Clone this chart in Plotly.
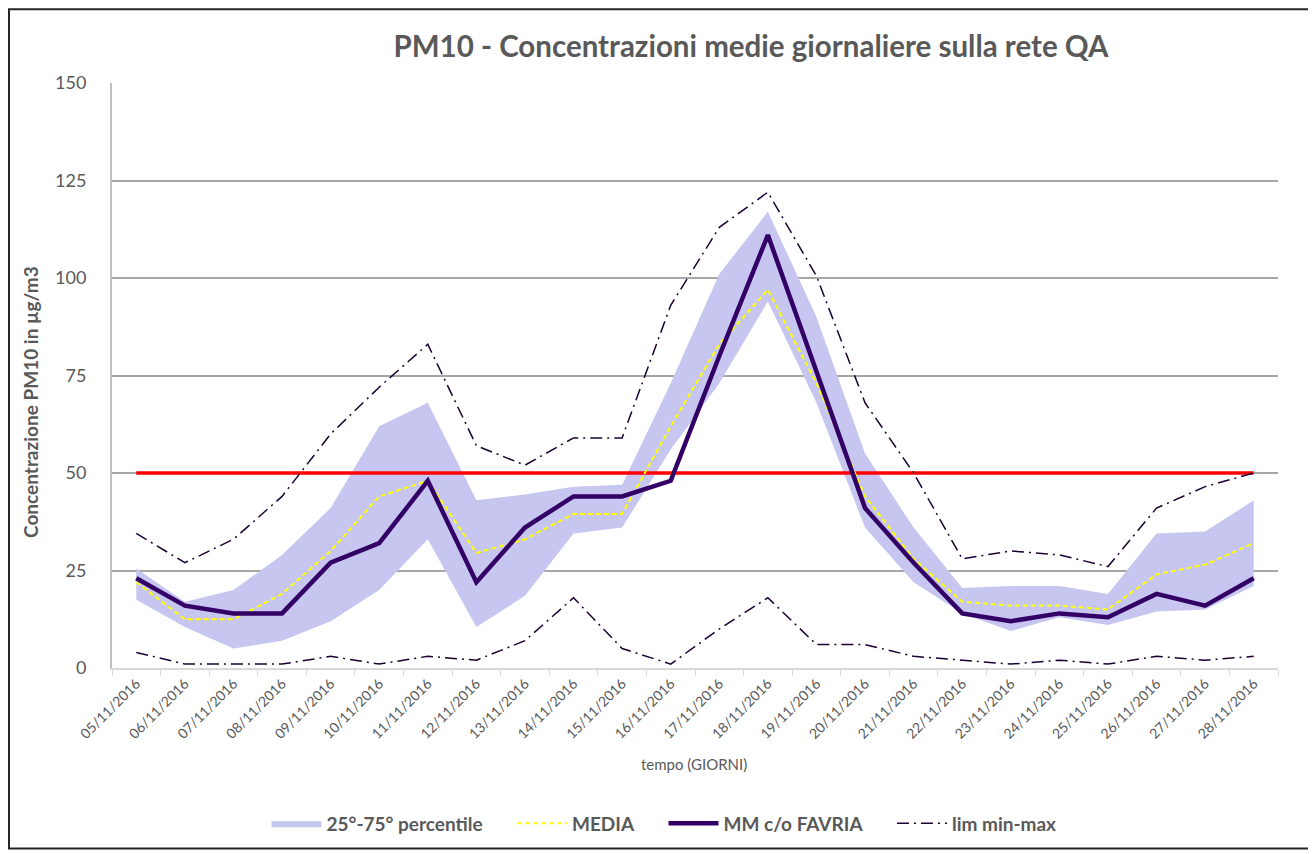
import plotly.graph_objects as go

dates = ["05/11/2016", "06/11/2016", "07/11/2016", "08/11/2016", "09/11/2016", "10/11/2016",
         "11/11/2016", "12/11/2016", "13/11/2016", "14/11/2016", "15/11/2016", "16/11/2016",
         "17/11/2016", "18/11/2016", "19/11/2016", "20/11/2016", "21/11/2016", "22/11/2016",
         "23/11/2016", "24/11/2016", "25/11/2016", "26/11/2016", "27/11/2016", "28/11/2016"]

p25 = [17.5, 10.5, 5, 7, 12, 20, 33, 10.5, 18.5, 34.5, 36, 56, 73, 94, 68, 36, 22, 14, 9.5, 13, 11, 14.5, 15, 21]
p75 = [25.5, 17, 20, 29, 41, 62, 68, 43, 44.5, 46.5, 47, 73, 101, 117, 90, 55, 36, 20.5, 21, 21, 19, 34.5, 35, 43]
media = [22, 12.5, 12.5, 19, 30, 44, 48, 29.5, 33, 39.5, 39.5, 62, 83, 97, 73, 44, 28, 17, 16, 16, 15, 24, 26.5, 32]
favria = [23, 16, 14, 14, 27, 32, 48, 22, 36, 44, 44, 48, 80, 111, 76, 41, 27, 14, 12, 14, 13, 19, 16, 23]
lim_max = [34.5, 27, 33, 44, 60, 72, 83, 57, 52, 59, 59, 93, 113, 122, 100.5, 68, 50, 28, 30, 29, 26, 41, 46.5, 50]
lim_min = [4, 1, 1, 1, 3, 1, 3, 2, 7, 18, 5, 1, 10, 18, 6, 6, 3, 2, 1, 2, 1, 3, 2, 3]
LIMIT_VALUE = 50

O = 8  # page body margin
W, H = 1316 - O, 854 - O
L, R, T, B = 112 - O, 1278 - O, 83 - O, 670 - O


def px(x):
    return (x - O - L) / (R - L)


def py(y):
    return (B - (y - O)) / (B - T)


FONT = "Lato"
GREY = "#595959"
GAP = "&nbsp;" * 5

fig = go.Figure()
fig.add_trace(go.Scatter(x=dates, y=p25, mode="lines", line=dict(width=0, color="#c6c6f0"),
                         showlegend=False, hoverinfo="skip"))
fig.add_trace(go.Scatter(x=dates, y=p75, mode="lines", line=dict(width=0, color="#c6c6f0"),
                         fill="tonexty", fillcolor="#c6c6f0",
                         name="<b>25°-75° percentile</b>" + GAP))
fig.add_trace(go.Scatter(x=[dates[0], dates[-1]], y=[LIMIT_VALUE, LIMIT_VALUE], mode="lines",
                         line=dict(color="#ff0000", width=3.5), showlegend=False))
fig.add_trace(go.Scatter(x=dates, y=media, mode="lines", name="<b>MEDIA</b>" + GAP,
                         line=dict(color="#ffff00", width=2, dash="5px,3px")))
fig.add_trace(go.Scatter(x=dates, y=favria, mode="lines", name="<b>MM c/o FAVRIA</b>" + GAP,
                         line=dict(color="#330066", width=4.5)))
fig.add_trace(go.Scatter(x=dates, y=lim_max, mode="lines", name="<b>lim min-max</b>",
                         legendgroup="lim",
                         line=dict(color="#1a0033", width=1.5, dash="12px,5px,2px,5px")))
fig.add_trace(go.Scatter(x=dates, y=lim_min, mode="lines", name="<b>lim min-max</b>",
                         legendgroup="lim", showlegend=False,
                         line=dict(color="#1a0033", width=1.5, dash="12px,5px,2px,5px")))

fig.update_layout(
    width=W, height=H,
    margin=dict(l=L, r=W - R, t=T, b=H - B, pad=0),
    paper_bgcolor="white", plot_bgcolor="white",
    font=dict(family=FONT, color=GREY),
    title=dict(text="<b>PM10 - Concentrazioni medie giornaliere sulla rete QA</b>",
               x=(751 - O) / W, xanchor="center", y=1 - (47 - O) / H, yanchor="middle",
               font=dict(size=29.5, color=GREY, family=FONT)),
    xaxis=dict(type="category", range=[-0.5, 23.5], showgrid=False, showline=True,
               linecolor="#d9d9d9", linewidth=2, ticks="outside", tickson="boundaries",
               ticklen=6, tickcolor="#d9d9d9", tickangle=-45,
               tickfont=dict(size=14, color=GREY, family=FONT)),
    yaxis=dict(range=[0, 150], tickvals=[0, 25, 50, 75, 100, 125, 150], showgrid=True,
               gridcolor="#a6a6a6", gridwidth=1.5, showline=True, linecolor="#bfbfbf",
               linewidth=2, zeroline=False, ticks="", ticklabelstandoff=20,
               tickfont=dict(size=18, color=GREY, family=FONT)),
    legend=dict(orientation="h", x=px(664), xanchor="center", y=py(826), yanchor="middle",
                font=dict(size=19, color=GREY, family=FONT), itemwidth=50,
                bgcolor="rgba(0,0,0,0)"),
    annotations=[
        dict(text="tempo (GIORNI)", x=px(694), y=py(766), xref="paper", yref="paper",
             xanchor="center", yanchor="middle",
             showarrow=False, font=dict(size=15, color=GREY, family=FONT)),
        dict(text="<b>Concentrazione PM10 in µg/m3</b>", x=px(31), y=py(403), xref="paper",
             yref="paper", xanchor="center", yanchor="middle", textangle=-90, showarrow=False,
             font=dict(size=19, color=GREY, family=FONT)),
    ],
    shapes=[
        dict(type="rect", xref="paper", yref="paper", x0=px(9), x1=px(1311), y0=py(851), y1=py(9),
             line=dict(color="#262626", width=2), layer="below"),
    ],
)

fig.write_html("out.html")
